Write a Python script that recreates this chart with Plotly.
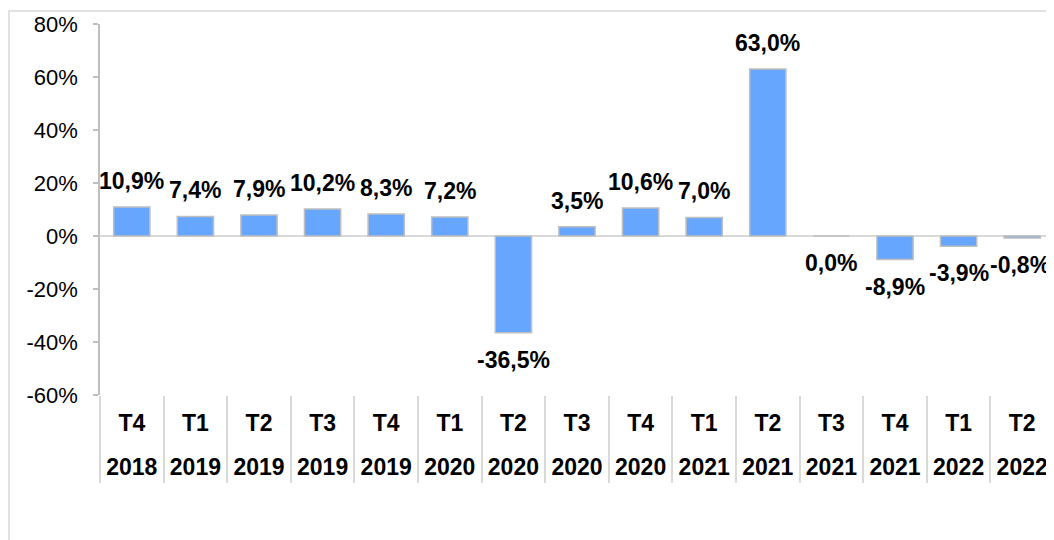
import plotly.graph_objects as go

quarters = ["T4", "T1", "T2", "T3", "T4", "T1", "T2", "T3", "T4", "T1", "T2", "T3", "T4", "T1", "T2"]
years = ["2018", "2019", "2019", "2019", "2019", "2020", "2020", "2020", "2020", "2021", "2021", "2021", "2021", "2022", "2022"]
values = [10.9, 7.4, 7.9, 10.2, 8.3, 7.2, -36.5, 3.5, 10.6, 7.0, 63.0, 0.0, -8.9, -3.9, -0.8]
y_ticks = [-60, -40, -20, 0, 20, 40, 60, 80]
y_tick_labels = ["-60%", "-40%", "-20%", "0%", "20%", "40%", "60%", "80%"]

FONT = "Liberation Sans, Arial, sans-serif"
n = len(values)
idx = list(range(n))
rng = [-0.5, n - 0.5]

fig = go.Figure()
fig.add_trace(go.Bar(
    x=idx, y=values,
    marker=dict(color="#66A6FF", line=dict(color="#BFBFBF", width=1.5)),
    hoverinfo="skip",
))
# invisible carriers so the overlaying axes get drawn
for ax in ("x2", "x3"):
    fig.add_trace(go.Scatter(
        x=idx, y=[0] * n, xaxis=ax, yaxis="y", mode="markers",
        marker=dict(opacity=0, size=1), hoverinfo="skip",
    ))

annotations = []
for i, v in zip(idx, values):
    txt = f"{v:.1f}".replace(".", ",") + "%"
    annotations.append(dict(
        x=i, y=v, xref="x", yref="y", text=f"<b>{txt}</b>", showarrow=False,
        yanchor="middle", xanchor="center",
        yshift=26 if v > 0 else -27,
        xshift=-2 if i == n - 1 else 0,
        font=dict(family=FONT, size=23, color="#000000"),
    ))

axis_common = dict(showline=False, showgrid=False, zeroline=False, range=rng, tickmode="array")

fig.update_layout(
    width=1046, height=532,
    margin=dict(l=92, r=0, t=16, b=145),
    paper_bgcolor="white", plot_bgcolor="white",
    showlegend=False, bargap=0.43,
    annotations=annotations,
    xaxis=dict(
        **axis_common, tickvals=idx,
        ticktext=[f"<b>{q}</b>" for q in quarters],
        ticks="outside", ticklen=7, tickcolor="rgba(0,0,0,0)",
        tickfont=dict(family=FONT, size=23, color="#000000"),
    ),
    xaxis2=dict(
        **axis_common, overlaying="x", anchor="y", side="bottom",
        tickvals=idx,
        ticktext=[f"<b>{y}</b>" for y in years],
        ticks="outside", ticklen=51, tickcolor="rgba(0,0,0,0)",
        tickfont=dict(family=FONT, size=23, color="#000000"),
    ),
    xaxis3=dict(
        **axis_common, overlaying="x", anchor="y", side="bottom",
        tickvals=[i - 0.5 for i in idx] + [n - 0.5],
        showticklabels=False,
        ticks="outside", ticklen=87, tickcolor="#D9D9D9", tickwidth=1.5,
    ),
    yaxis=dict(
        range=[y_ticks[0], y_ticks[-1]], tickmode="array", tickvals=y_ticks,
        ticktext=y_tick_labels,
        ticks="outside", ticklen=5, tickcolor="#BFBFBF", tickwidth=1.5,
        showline=True, linecolor="#BFBFBF", linewidth=1.5,
        showgrid=False, zeroline=True, zerolinecolor="#D9D9D9", zerolinewidth=2,
        tickfont=dict(family=FONT, size=22, color="#000000"),
        ticklabelstandoff=11,
    ),
    shapes=[dict(
        type="rect", xref="paper", yref="paper",
        x0=(9 - 100) / 954, x1=1.02, y0=-0.5, y1=1 + (24 - 11) / 371,
        line=dict(color="#D9D9D9", width=1.5), fillcolor="rgba(0,0,0,0)", layer="below",
    )],
)

fig.write_html("out.html")
